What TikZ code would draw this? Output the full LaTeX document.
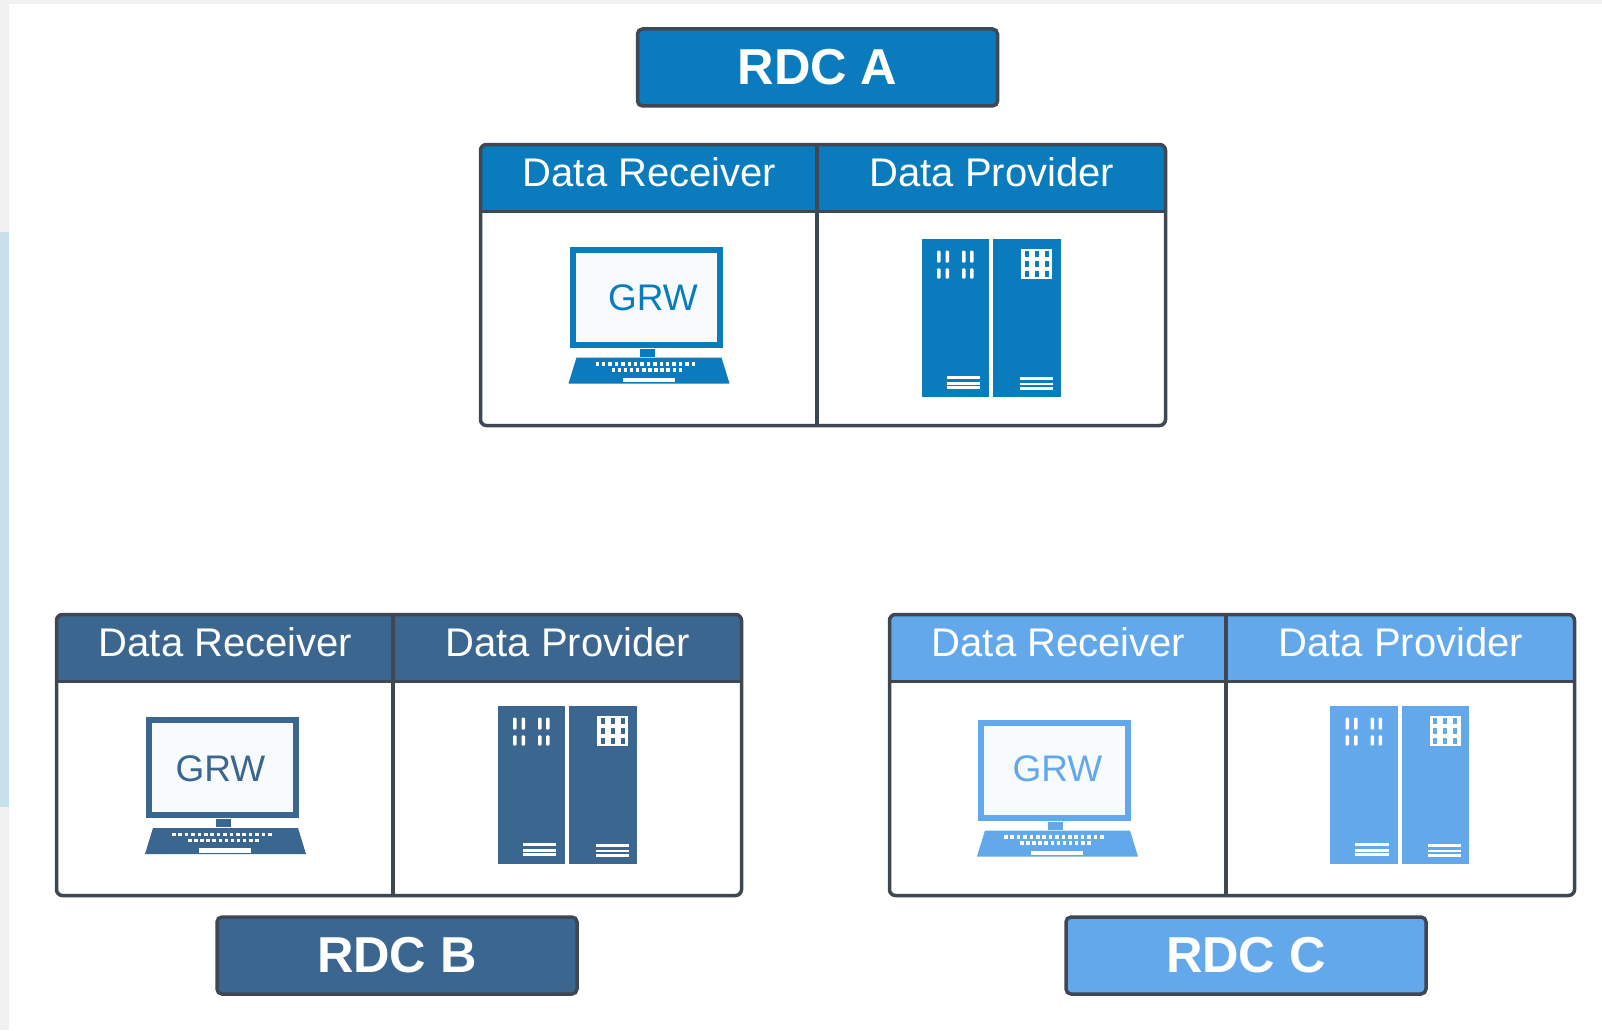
\documentclass[tikz,border=0pt]{standalone}
\usepackage{fontspec}
\setmainfont{Liberation Sans}
\definecolor{rdcA}{HTML}{0A7CBD}
\definecolor{rdcB}{HTML}{3A668F}
\definecolor{rdcC}{HTML}{62A8EB}
\definecolor{rim}{HTML}{3F4753}
\definecolor{screen}{HTML}{F8FBFE}
\definecolor{stripgray}{HTML}{F0F0F0}
\definecolor{stripblue}{HTML}{C8DFEC}
\tikzset{
  rdcbox/.style={draw=rim,line width=3.5pt,rounded corners=5pt,minimum width=360pt,minimum height=77pt,
    inner sep=0pt,text=white,font=\fontsize{50.5}{51}\selectfont\bfseries},
  headtext/.style={anchor=base,text=white,inner sep=0pt,font=\fontsize{40}{40}\selectfont},
  grwtext/.style={inner sep=0pt,font=\fontsize{37}{37}\selectfont}
}
% panel: name, top left corner, colour
\newcommand{\rdcpanel}[3]{
  \begin{scope}[shift={(#2)}]
    \fill[white,rounded corners=6pt] (0,0) rectangle (685,281);
    \begin{scope}
      \clip[rounded corners=6pt] (0,0) rectangle (685,281);
      \fill[#3] (0,0) rectangle (685,67);
    \end{scope}
    \draw[rim,line width=3.5pt,rounded corners=6pt] (0,0) rectangle (685,281);
    \draw[rim,line width=3.5pt] (0,67) -- (685,67);
    \draw[rim,line width=3.5pt] (336.5,0) -- (336.5,281);
    \node[headtext] (#1recv) at (169,42) {Data Receiver};
    \node[headtext] (#1prov) at (511.5,42) {Data Provider};
  \end{scope}
}
% laptop: top left corner of the monitor, colour
\newcommand{\grwlaptop}[2]{
  \begin{scope}[shift={(#1)}]
    \fill[#2] (0,0) rectangle (153,101);
    \fill[screen] (6,6) rectangle (147,95);
    \fill[#2] (70,102) rectangle (85,110);
    \fill[#2] (7,111) -- (152,111) -- (160,137) -- (-1,137) -- cycle;
    \foreach \k in {0,...,15}
      \fill[white] (26+6.4*\k,115.5) rectangle +(3.5,3.5);
    \foreach \k in {0,...,11}
      \fill[white] (42+6.1*\k,121.5) rectangle +(3.5,3.5);
    \fill[white] (53,131) rectangle (105,135.5);
  \end{scope}
}
% server pair: top left corner, colour
\newcommand{\grwserver}[2]{
  \begin{scope}[shift={(#1)}]
    \fill[#2] (0,0) rectangle (67.5,157.5);
    \fill[#2] (71.5,0) rectangle (139,157.5);
    \foreach \sx in {15.5,24,40.5,48.5}{
      \fill[white,rounded corners=1pt] (\sx,11.7) rectangle +(3.5,12);
      \fill[white,rounded corners=1pt] (\sx,29.3) rectangle +(3.5,10.4);
    }
    \fill[white] (99.5,9.7) rectangle (130.5,39.7);
    \foreach \hx in {105.3,115.3,125.3}
      \foreach \hy in {15,25.3,35.3}
        \fill[#2] (\hx-2,\hy-3) rectangle +(4,6);
    \foreach \ly in {138.7,144.3,148.7}
      \fill[white] (25.3,\ly-1.25) rectangle (58.7,\ly+1.25);
    \foreach \ly in {139.7,145,149.7}
      \fill[white] (98,\ly-1.25) rectangle (131,\ly+1.25);
  \end{scope}
}

\begin{document}
\begin{tikzpicture}[x=1pt,y=-1pt]
    \useasboundingbox (0,0) rectangle (1602,1030);

    \fill[stripgray] (0,0) rectangle (9,1030);
    \fill[stripgray] (0,0) rectangle (1602,4.5);
    \fill[stripblue] (0,232) rectangle (9,807);

    \rdcpanel{a}{480.5,144.5}{rdcA}
    \rdcpanel{b}{56.5,614.5}{rdcB}
    \rdcpanel{c}{889.5,614.5}{rdcC}

    \grwlaptop{569.5,246.5}{rdcA}
    \grwlaptop{146,717}{rdcB}
    \grwlaptop{978,719.5}{rdcC}

    \grwserver{921.5,239}{rdcA}
    \grwserver{497.5,706}{rdcB}
    \grwserver{1330,706}{rdcC}

%labels
    \node[grwtext,text=rdcA] (agrw) at (653,297.5) {GRW};
    \node[grwtext,text=rdcB] (bgrw) at (220.5,768.5) {GRW};
    \node[grwtext,text=rdcC] (cgrw) at (1057.5,768.5) {GRW};

    \node[rdcbox,fill=rdcA] (rdca) at (817.5,67.5) {RDC A};
    \node[rdcbox,fill=rdcB] (rdcb) at (397,955.5) {RDC B};
    \node[rdcbox,fill=rdcC] (rdcc) at (1246,955.5) {RDC C};
\end{tikzpicture}
\end{document}
